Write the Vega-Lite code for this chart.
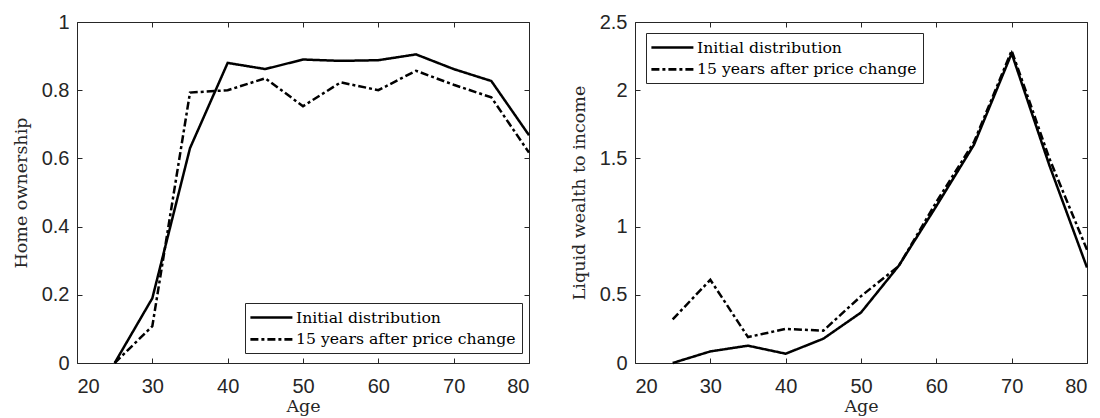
{
  "$schema": "https://vega.github.io/schema/vega-lite/v6.json",
  "background": "white",
  "padding": {"left": 12, "top": 11, "right": 0, "bottom": 0},
  "spacing": 35,
  "datasets": {
    "home": [
      {"age": 25, "series": "Initial distribution", "value": 0.0},
      {"age": 30, "series": "Initial distribution", "value": 0.19},
      {"age": 35, "series": "Initial distribution", "value": 0.63},
      {"age": 40, "series": "Initial distribution", "value": 0.88},
      {"age": 45, "series": "Initial distribution", "value": 0.862},
      {"age": 50, "series": "Initial distribution", "value": 0.89},
      {"age": 55, "series": "Initial distribution", "value": 0.886},
      {"age": 60, "series": "Initial distribution", "value": 0.888},
      {"age": 65, "series": "Initial distribution", "value": 0.905},
      {"age": 70, "series": "Initial distribution", "value": 0.862},
      {"age": 75, "series": "Initial distribution", "value": 0.827},
      {"age": 80, "series": "Initial distribution", "value": 0.668},
      {"age": 25, "series": "15 years after price change", "value": 0.0},
      {"age": 30, "series": "15 years after price change", "value": 0.108},
      {"age": 35, "series": "15 years after price change", "value": 0.793},
      {"age": 40, "series": "15 years after price change", "value": 0.80},
      {"age": 45, "series": "15 years after price change", "value": 0.835},
      {"age": 50, "series": "15 years after price change", "value": 0.753},
      {"age": 55, "series": "15 years after price change", "value": 0.823},
      {"age": 60, "series": "15 years after price change", "value": 0.80},
      {"age": 65, "series": "15 years after price change", "value": 0.857},
      {"age": 70, "series": "15 years after price change", "value": 0.816},
      {"age": 75, "series": "15 years after price change", "value": 0.779},
      {"age": 80, "series": "15 years after price change", "value": 0.617}
    ],
    "liquid": [
      {"age": 25, "series": "Initial distribution", "value": 0.0},
      {"age": 30, "series": "Initial distribution", "value": 0.085},
      {"age": 35, "series": "Initial distribution", "value": 0.127},
      {"age": 40, "series": "Initial distribution", "value": 0.068},
      {"age": 45, "series": "Initial distribution", "value": 0.178},
      {"age": 50, "series": "Initial distribution", "value": 0.37},
      {"age": 55, "series": "Initial distribution", "value": 0.712},
      {"age": 60, "series": "Initial distribution", "value": 1.15},
      {"age": 65, "series": "Initial distribution", "value": 1.6},
      {"age": 70, "series": "Initial distribution", "value": 2.27},
      {"age": 75, "series": "Initial distribution", "value": 1.45},
      {"age": 80, "series": "Initial distribution", "value": 0.70},
      {"age": 25, "series": "15 years after price change", "value": 0.32},
      {"age": 30, "series": "15 years after price change", "value": 0.61},
      {"age": 35, "series": "15 years after price change", "value": 0.19},
      {"age": 40, "series": "15 years after price change", "value": 0.25},
      {"age": 45, "series": "15 years after price change", "value": 0.237},
      {"age": 50, "series": "15 years after price change", "value": 0.49},
      {"age": 55, "series": "15 years after price change", "value": 0.71},
      {"age": 60, "series": "15 years after price change", "value": 1.18},
      {"age": 65, "series": "15 years after price change", "value": 1.62},
      {"age": 70, "series": "15 years after price change", "value": 2.29},
      {"age": 75, "series": "15 years after price change", "value": 1.5},
      {"age": 80, "series": "15 years after price change", "value": 0.83}
    ]
  },
  "config": {
    "view": {"stroke": "#262626", "strokeWidth": 1},
    "axis": {
      "grid": false,
      "domain": false,
      "tickColor": "#262626",
      "tickSize": -5,
      "labelFont": "Liberation Sans",
      "labelFontSize": 20,
      "labelColor": "#262626",
      "titleFont": "DejaVu Serif",
      "titleFontSize": 17.5,
      "titleFontWeight": "normal",
      "titleColor": "#262626"
    },
    "axisX": {"labelPadding": 18.5, "titlePadding": 1},
    "axisY": {"labelPadding": 13, "titlePadding": 10.5},
    "legend": {
      "orient": "none",
      "title": null,
      "strokeColor": "#262626",
      "fillColor": "white",
      "padding": 6,
      "symbolType": "M-1.3,0H4.7",
      "symbolSize": 196,
      "symbolStrokeWidth": 2.7,
      "symbolStrokeColor": "black",
      "labelFont": "DejaVu Serif",
      "labelFontSize": 15.7,
      "labelColor": "black",
      "labelOffset": 28,
      "labelLimit": 400,
      "rowPadding": 4.8
    }
  },
  "hconcat": [
    {
      "width": 452,
      "height": 341,
      "data": {"name": "home"},
      "layer": [
        {
          "mark": {"type": "line", "color": "black", "strokeWidth": 2.5},
          "encoding": {
            "x": {"field": "age", "type": "quantitative", "scale": {"domain": [20, 80], "nice": false},
                  "axis": {"orient": "bottom", "values": [20, 30, 40, 50, 60, 70, 80], "title": "Age"}},
            "y": {"field": "value", "type": "quantitative", "scale": {"domain": [0, 1], "nice": false},
                  "axis": {"orient": "left", "values": [0, 0.2, 0.4, 0.6, 0.8, 1], "format": "~g", "title": "Home ownership"}},
            "strokeDash": {"field": "series", "type": "nominal",
              "scale": {"domain": ["Initial distribution", "15 years after price change"], "range": [[1, 0], [8, 3, 3, 3]]},
              "legend": {"legendX": 168, "legendY": 281}}
          }
        },
        {
          "mark": {"type": "line", "opacity": 0},
          "encoding": {
            "x": {"field": "age", "type": "quantitative",
                  "axis": {"orient": "top", "values": [20, 30, 40, 50, 60, 70, 80], "labels": false, "title": null}},
            "y": {"field": "value", "type": "quantitative",
                  "axis": {"orient": "right", "values": [0, 0.2, 0.4, 0.6, 0.8, 1], "labels": false, "title": null}}
          }
        }
      ],
      "resolve": {"axis": {"x": "independent", "y": "independent"}}
    },
    {
      "width": 452,
      "height": 341,
      "data": {"name": "liquid"},
      "layer": [
        {
          "mark": {"type": "line", "color": "black", "strokeWidth": 2.5},
          "encoding": {
            "x": {"field": "age", "type": "quantitative", "scale": {"domain": [20, 80], "nice": false},
                  "axis": {"orient": "bottom", "values": [20, 30, 40, 50, 60, 70, 80], "title": "Age"}},
            "y": {"field": "value", "type": "quantitative", "scale": {"domain": [0, 2.5], "nice": false},
                  "axis": {"orient": "left", "values": [0, 0.5, 1, 1.5, 2, 2.5], "format": "~g", "title": "Liquid wealth to income"}},
            "strokeDash": {"field": "series", "type": "nominal",
              "scale": {"domain": ["Initial distribution", "15 years after price change"], "range": [[1, 0], [8, 3, 3, 3]]},
              "legend": {"legendX": 11, "legendY": 11}}
          }
        },
        {
          "mark": {"type": "line", "opacity": 0},
          "encoding": {
            "x": {"field": "age", "type": "quantitative",
                  "axis": {"orient": "top", "values": [20, 30, 40, 50, 60, 70, 80], "labels": false, "title": null}},
            "y": {"field": "value", "type": "quantitative",
                  "axis": {"orient": "right", "values": [0, 0.5, 1, 1.5, 2, 2.5], "labels": false, "title": null}}
          }
        }
      ],
      "resolve": {"axis": {"x": "independent", "y": "independent"}}
    }
  ],
  "resolve": {"scale": {"strokeDash": "independent"}}
}
